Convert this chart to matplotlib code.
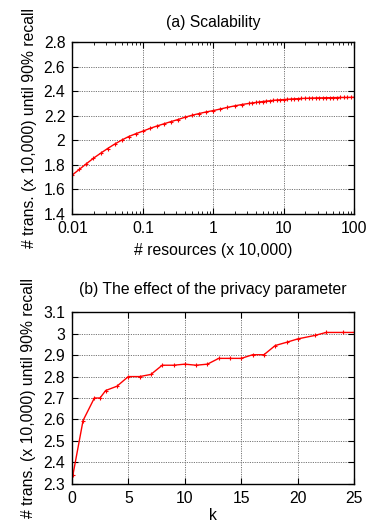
import numpy as np
import matplotlib
matplotlib.use("Agg")
import matplotlib.pyplot as plt
from matplotlib.ticker import FixedLocator, NullFormatter, LogLocator

plt.rcParams['font.family'] = ['Liberation Sans', 'DejaVu Sans']

# (a) Scalability: log10 of # resources (x 10,000) and # trans. (x 10,000)
a_log_x = [-2.0, -1.9, -1.8, -1.7, -1.6, -1.5, -1.4, -1.3, -1.2, -1.1,
           -1.0, -0.9, -0.8, -0.7, -0.6, -0.5, -0.4, -0.3, -0.2, -0.1,
           0.0, 0.1, 0.2, 0.3, 0.4, 0.5, 0.55, 0.6, 0.65, 0.7, 0.75, 0.8,
           0.85, 0.9, 0.95, 1.0, 1.05, 1.1, 1.15, 1.2, 1.25, 1.3, 1.35, 1.4,
           1.45, 1.5, 1.55, 1.6, 1.65, 1.7, 1.75, 1.8, 1.85, 1.9, 1.95, 2.0]
a_y = [1.716, 1.762, 1.808, 1.853, 1.893, 1.932, 1.968, 2.001, 2.030, 2.053,
       2.074, 2.096, 2.116, 2.134, 2.152, 2.169, 2.188, 2.204, 2.218, 2.231,
       2.242, 2.255, 2.268, 2.280, 2.291, 2.300, 2.304, 2.308, 2.312, 2.316, 2.319, 2.322,
       2.325, 2.328, 2.330, 2.332, 2.334, 2.336, 2.338, 2.339, 2.341, 2.342, 2.343, 2.344,
       2.345, 2.346, 2.346, 2.347, 2.347, 2.348, 2.348, 2.349, 2.349, 2.349, 2.350, 2.350]

# (b) The effect of the privacy parameter
b_k = [0.1, 1, 2, 2.5, 3, 4, 5, 6, 7, 8, 9, 10, 11, 12, 13, 14, 15, 16, 17,
       18, 19, 20, 21.5, 22.5, 24, 25]
b_y = [2.340, 2.595, 2.700, 2.700, 2.735, 2.755, 2.800, 2.800, 2.810, 2.853,
       2.853, 2.858, 2.853, 2.858, 2.885, 2.885, 2.885, 2.902, 2.902, 2.945,
       2.960, 2.976, 2.992, 3.006, 3.006, 3.006]

a_yticks = [1.4, 1.6, 1.8, 2.0, 2.2, 2.4, 2.6, 2.8]
a_yticklabels = ['1.4', '1.6', '1.8', '2', '2.2', '2.4', '2.6', '2.8']
a_xticks = [0.01, 0.1, 1, 10, 100]
a_xticklabels = ['0.01', '0.1', '1', '10', '100']
b_yticks = [2.3, 2.4, 2.5, 2.6, 2.7, 2.8, 2.9, 3.0, 3.1]
b_yticklabels = ['2.3', '2.4', '2.5', '2.6', '2.7', '2.8', '2.9', '3', '3.1']
b_xticks = [0, 5, 10, 15, 20, 25]

fig = plt.figure(figsize=(3.68, 5.28), dpi=100)
ax1 = fig.add_axes([0.1965, 0.5953, 0.7665, 0.3247])
ax2 = fig.add_axes([0.195, 0.0839, 0.768, 0.3246])

FS = 11.3
ylabel = '# trans. (x 10,000) until 90% recall'

def style(ax):
    ax.grid(True, which='major', color='#777777', linestyle=(0, (1.2, 1.2)), linewidth=0.7)
    ax.tick_params(which='major', direction='in', length=4, width=0.8, top=True, right=True,
                   labelsize=FS, pad=5)
    ax.tick_params(which='minor', direction='in', length=2, width=0.6, top=True, right=True)
    for s in ax.spines.values():
        s.set_linewidth(1.0)
        s.set_color('black')

# (a)
a_x = [10 ** e for e in a_log_x]
ax1.plot(a_x, a_y, color='red', linewidth=1.0, marker='+', markersize=3.5, markeredgewidth=0.8)
ax1.set_xscale('log')
ax1.set_xlim(0.01, 100)
ax1.set_ylim(1.4, 2.8)
ax1.xaxis.set_major_locator(FixedLocator(a_xticks))
ax1.set_xticklabels(a_xticklabels)
ax1.xaxis.set_minor_locator(LogLocator(base=10, subs=np.arange(2, 10)))
ax1.xaxis.set_minor_formatter(NullFormatter())
ax1.set_yticks(a_yticks)
ax1.set_yticklabels(a_yticklabels)
style(ax1)
ax1.set_title('(a) Scalability', fontsize=FS, pad=11)
ax1.set_xlabel('# resources (x 10,000)', fontsize=FS, labelpad=5)
ax1.set_ylabel(ylabel, fontsize=FS, labelpad=5)

# (b)
ax2.plot(b_k, b_y, color='red', linewidth=1.0, marker='+', markersize=3.5, markeredgewidth=0.8)
ax2.set_xlim(0, 25)
ax2.set_ylim(2.3, 3.1)
ax2.set_xticks(b_xticks)
ax2.set_yticks(b_yticks)
ax2.set_yticklabels(b_yticklabels)
style(ax2)
ax2.set_title('(b) The effect of the privacy parameter', fontsize=FS, pad=13)
ax2.set_xlabel('k', fontsize=FS, labelpad=2)
ax2.set_ylabel(ylabel, fontsize=FS, labelpad=5)

fig.savefig('out.png', dpi=100)
